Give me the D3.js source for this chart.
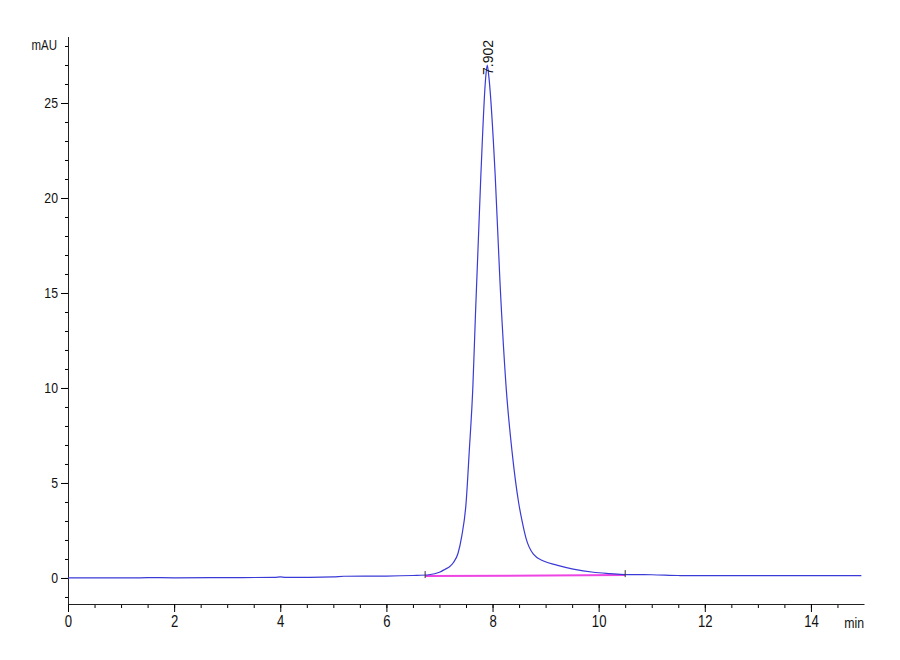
<!DOCTYPE html>
<html>
<head>
  <script src="https://d3js.org/d3.v7.min.js"></script>
  <style>
    body { margin: 0; background: #fff; }
    .tick text { font-family: "Liberation Sans", Arial, sans-serif; fill: #111; }
  </style>
</head>
<body>
  <script>
    // Retention time (min) and detector signal (mAU)
    const times = [0, 0.5, 1.2, 1.5, 2, 3, 3.9, 4.0, 4.1, 5.0, 5.2, 6.0, 6.5, 6.8, 7.0, 7.1, 7.2, 7.26, 7.35,
                   7.42, 7.5, 7.56, 7.63, 7.675, 7.78, 7.87, 7.9, 7.93, 8.05, 8.14, 8.26, 8.37, 8.49, 8.56,
                   8.63, 8.77, 8.96, 9.21, 9.52, 9.9, 10.21, 10.5, 11, 11.5, 12, 13, 14, 14.95];
    const signal = [0.0, 0.01, 0.0, 0.02, 0.01, 0.02, 0.03, 0.06, 0.03, 0.06, 0.09, 0.1, 0.13, 0.17, 0.3, 0.45, 0.62, 0.8, 1.3,
                    2.2, 3.9, 6.6, 10.1, 13.6, 21.2, 26.3, 27.0, 26.4, 21.2, 15.6, 9.9, 6.6, 4.0, 2.95,
                    2.1, 1.25, 0.89, 0.68, 0.47, 0.3, 0.23, 0.18, 0.17, 0.13, 0.12, 0.12, 0.12, 0.12];

    // Integration baseline
    const baseTimes = [6.73, 10.5];
    const baseValues = [0.1, 0.15];

    // Peak annotation
    const peakTime = 7.902;
    const peakValue = 27.0;
    const peakLabel = "7.902";

    // Axis ticks
    const xMajor = [0, 2, 4, 6, 8, 10, 12, 14];
    const xMinor = d3.range(0, 14.75, 0.5);
    const yMajor = [0, 5, 10, 15, 20, 25];
    const yMinor = d3.range(-1, 28.5, 1);

    const width = 900, height = 660;
    const narrow = 0.82; // horizontal squeeze for the condensed axis font

    const svg = d3.select("body")
      .append("svg")
        .attr("width", width)
        .attr("height", height);

    const x = d3.scaleLinear()
      .domain([0, 15])
      .range([68, 864]);

    const y = d3.scaleLinear()
      .domain([-1.37, 28.5])
      .range([604, 36.5]);

    // Minor ticks
    svg.append("g")
      .attr("transform", `translate(0,${y.range()[0]})`)
      .call(d3.axisBottom(x).tickValues(xMinor).tickSize(4).tickSizeOuter(0).tickFormat(""))
      .call(g => g.select(".domain").remove());

    svg.append("g")
      .attr("transform", `translate(${x.range()[0]},0)`)
      .call(d3.axisLeft(y).tickValues(yMinor).tickSize(3).tickSizeOuter(0).tickFormat(""))
      .call(g => g.select(".domain").remove());

    // Major ticks + axis lines
    svg.append("g")
      .attr("transform", `translate(0,${y.range()[0]})`)
      .call(d3.axisBottom(x).tickValues(xMajor).tickSize(8).tickSizeOuter(0).tickPadding(4))
      .call(g => g.selectAll("text").attr("font-size", 16).attr("transform", `scale(${narrow},1)`))
      .call(g => g.select(".domain").attr("stroke", "#222"));

    svg.append("g")
      .attr("transform", `translate(${x.range()[0]},0)`)
      .call(d3.axisLeft(y).tickValues(yMajor).tickSize(7).tickSizeOuter(0).tickPadding(4))
      .call(g => g.selectAll("text")
        .attr("font-size", 15)
        .attr("x", -10 / narrow)
        .attr("transform", `scale(${narrow},1)`))
      .call(g => g.select(".domain").attr("stroke", "#222"));

    // Unit labels
    svg.append("text")
      .attr("transform", `translate(57,50) scale(${narrow},1)`)
      .attr("text-anchor", "end")
      .attr("font-family", "'Liberation Sans', Arial, sans-serif")
      .attr("font-size", 14)
      .attr("fill", "#111")
      .text("mAU");

    svg.append("text")
      .attr("transform", `translate(864,628) scale(${narrow},1)`)
      .attr("text-anchor", "end")
      .attr("font-family", "'Liberation Sans', Arial, sans-serif")
      .attr("font-size", 15)
      .attr("fill", "#111")
      .text("min");

    // Integration baseline
    const baseData = baseTimes.map((t, i) => ({t: t, v: baseValues[i]}));
    svg.append("path")
      .datum(baseData)
      .attr("fill", "none")
      .attr("stroke", "#ee44e4")
      .attr("stroke-width", 2)
      .attr("d", d3.line().x(d => x(d.t)).y(d => y(d.v)));

    // Chromatogram trace
    const trace = times.map((t, i) => ({t: t, v: signal[i]}));
    svg.append("path")
      .datum(trace)
      .attr("fill", "none")
      .attr("stroke", "#3a3ad6")
      .attr("stroke-width", 1.2)
      .attr("d", d3.line().curve(d3.curveMonotoneX).x(d => x(d.t)).y(d => y(d.v)));

    // Start / end markers of the peak
    svg.selectAll(".marker")
      .data(baseData)
      .join("line")
        .attr("class", "marker")
        .attr("x1", d => x(d.t))
        .attr("x2", d => x(d.t))
        .attr("y1", d => y(d.v) - 5)
        .attr("y2", d => y(d.v) + 2)
        .attr("stroke", "#333")
        .attr("stroke-width", 1);

    // Peak retention time label
    svg.append("text")
      .attr("transform", `translate(${x(peakTime) + 6},${y(peakValue) + 10}) rotate(-90)`)
      .attr("font-family", "'Liberation Sans', Arial, sans-serif")
      .attr("font-size", 14)
      .attr("fill", "#111")
      .text(peakLabel);
  </script>
</body>
</html>
